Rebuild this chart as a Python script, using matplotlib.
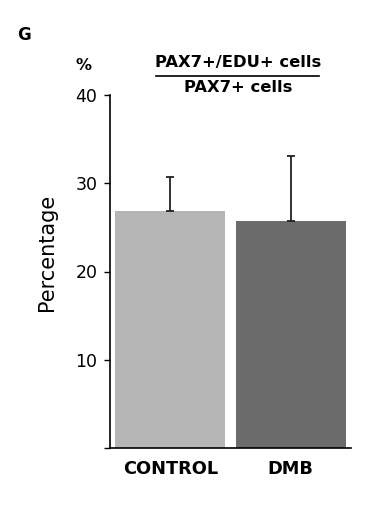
import matplotlib.pyplot as plt
from matplotlib.lines import Line2D

plt.rcParams['font.family'] = ['DejaVu Sans']

groups = ['CONTROL', 'DMB']
means = [26.9, 25.7]
errors = [3.8, 7.4]
colors = ['#b5b5b5', '#6b6b6b']

W, H = 390, 529
fig = plt.figure(figsize=(W / 100, H / 100), dpi=100)
ax = fig.add_axes([110 / W, 1 - 448 / H, 241 / W, 353 / H])

x = range(len(groups))
ax.bar(x, means, width=0.91, color=colors, zorder=2)
ax.errorbar(x, means, yerr=[[0, 0], errors], fmt='none', ecolor='#222222',
            elinewidth=1.3, capsize=3, capthick=1.3, zorder=3)

ax.set_xlim(-0.5, 1.5)
ax.set_ylim(0, 40)
ax.set_yticks([0, 10, 20, 30, 40])
ax.set_yticklabels(['', '10', '20', '30', '40'], fontsize=12.5)
ax.set_xticks(list(x))
ax.set_xticklabels(groups, fontsize=12.8, fontweight='bold')
ax.tick_params(axis='x', length=0, pad=9)
ax.tick_params(axis='y', length=4, width=1, pad=5)
for s in ['top', 'right']:
    ax.spines[s].set_visible(False)
for s in ['left', 'bottom']:
    ax.spines[s].set_linewidth(1.2)

fig.text(47 / W, 1 - 252 / H, 'Percentage', rotation=90, fontsize=15,
         ha='center', va='center')
fig.text(24 / W, 1 - 35 / H, 'G', fontsize=12, fontweight='bold',
         ha='center', va='center')
fig.text(84 / W, 1 - 70 / H, '%', fontsize=11.5, fontweight='bold',
         ha='center', va='baseline')
fig.text(238 / W, 1 - 67.5 / H, 'PAX7+/EDU+ cells', fontsize=11.8,
         fontweight='bold', ha='center', va='baseline')
fig.text(238 / W, 1 - 92.5 / H, 'PAX7+ cells', fontsize=11.8,
         fontweight='bold', ha='center', va='baseline')
fig.add_artist(Line2D([156 / W, 319 / W], [1 - 76 / H, 1 - 76 / H],
                      color='black', linewidth=1.2, transform=fig.transFigure))

fig.savefig('out.png', dpi=100)
